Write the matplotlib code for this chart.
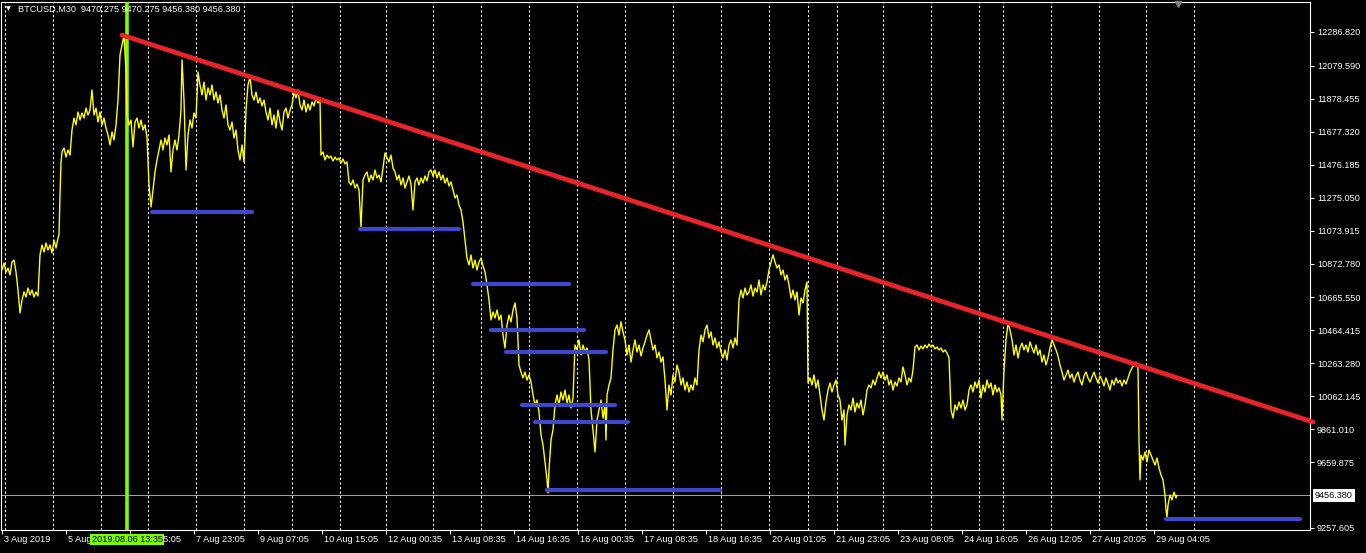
import matplotlib
matplotlib.use('Agg')
import matplotlib.pyplot as plt
import matplotlib.transforms as mtransforms

plt.rcParams['font.family'] = ['Liberation Sans', 'DejaVu Sans']

# --- data (bar index = one M30 candle) ---
bars = [
    0, 2, 4, 6, 8, 10, 12, 14, 16, 18,
    20, 22, 24, 26, 28, 30, 32, 34, 36, 38,
    40, 42, 44, 46, 48, 50, 52, 54, 56, 58,
    59, 60, 61, 62, 64, 66, 68, 70, 72, 74,
    76, 78, 80, 82, 84, 86, 88, 90, 92, 94,
    96, 98, 100, 102, 104, 106, 108, 110, 112, 114,
    116, 118, 120, 122, 124, 126, 127, 129, 131, 133,
    135, 137, 139, 141, 143, 145, 147, 149, 151, 153,
    155, 157, 159, 161, 163, 165, 167, 169, 171, 173,
    175, 177, 179, 181, 182, 184, 186, 188, 190, 192,
    194, 196, 198, 200, 202, 204, 206, 208, 210, 212,
    214, 216, 218, 220, 222, 224, 226, 228, 230, 232,
    234, 236, 238, 240, 242, 244, 246, 248, 250, 252,
    254, 256, 258, 260, 262, 264, 266, 268, 270, 272,
    274, 276, 278, 280, 282, 284, 286, 288, 290, 292,
    294, 296, 298, 300, 302, 304, 306, 308, 310, 312,
    314, 316, 318, 320, 321, 323, 325, 327, 329, 331,
    333, 335, 337, 339, 341, 343, 345, 347, 349, 351,
    353, 355, 357, 359, 361, 363, 365, 367, 369, 371,
    373, 375, 377, 379, 381, 383, 385, 387, 389, 391,
    393, 395, 397, 399, 401, 403, 405, 407, 409, 411,
    413, 415, 417, 419, 421, 423, 425, 427, 429, 431,
    433, 435, 437, 439, 441, 443, 445, 447, 449, 451,
    453, 455, 457, 459, 461, 463, 465, 467, 469, 471,
    473, 475, 477, 479, 481, 483, 485, 487, 489, 491,
    493, 495, 497, 499, 501, 503, 505, 507, 509, 511,
    513, 515, 517, 519, 521, 523, 525, 527, 529, 531,
    533, 535, 537, 539, 541, 543, 545, 547, 548, 549,
    551, 553, 555, 557, 559, 561, 563, 565, 567, 569,
    571, 573, 575, 577, 579, 581, 583, 585, 587, 589,
    591, 593, 595, 597, 599, 601, 603, 605, 606, 607,
    609, 611, 613, 615, 617, 619, 621, 623, 625, 627,
    629, 631, 633, 635, 637, 639, 641, 643, 645, 647,
    649, 651, 653, 655, 657, 659, 661, 663, 665, 667,
    669, 671, 673, 675, 677, 679, 681, 683, 685, 687,
    689, 691, 693, 695, 697, 699, 701, 703, 705, 707,
    709, 711, 713, 715, 717, 719, 721, 723, 725, 727,
    729, 731, 733, 735, 737, 739, 741, 743, 745, 747,
    749, 751, 753, 755, 757, 759, 761, 763, 765, 767,
    769, 771, 773, 775, 777, 779, 781, 783, 785, 787,
    789, 791, 793, 795, 797, 799, 801, 803, 805, 807,
    808, 810, 812, 814, 816, 818, 820, 822, 824, 826,
    828, 830, 832, 834, 836, 838, 840, 842, 844, 845,
    847, 849, 851, 853, 855, 857, 859, 861, 863, 865,
    867, 869, 871, 873, 875, 877, 879, 881, 883, 885,
    887, 889, 891, 893, 895, 897, 899, 901, 903, 905,
    907, 909, 911, 913, 915, 917, 919, 921, 923, 925,
    927, 929, 931, 933, 935, 937, 939, 941, 943, 945,
    947, 949, 951, 953, 955, 957, 959, 961, 963, 965,
    967, 969, 971, 973, 975, 977, 979, 981, 983, 985,
    987, 989, 991, 993, 995, 997, 999, 1001, 1002, 1004,
    1006, 1008, 1010, 1012, 1014, 1016, 1018, 1020, 1022, 1024,
    1026, 1028, 1030, 1032, 1034, 1036, 1038, 1040, 1042, 1044,
    1046, 1048, 1050, 1052, 1054, 1056, 1058, 1060, 1062, 1064,
    1066, 1068, 1070, 1072, 1074, 1076, 1078, 1080, 1082, 1084,
    1086, 1088, 1090, 1092, 1094, 1096, 1098, 1100, 1102, 1104,
    1106, 1108, 1110, 1112, 1114, 1116, 1118, 1120, 1122, 1124,
    1126, 1128, 1130, 1132, 1134, 1136, 1138, 1139, 1140, 1141,
    1143, 1145, 1147, 1149, 1151, 1153, 1155, 1157, 1159, 1161,
    1163, 1165, 1166, 1167, 1168, 1170, 1172, 1174, 1176, 1177,
]
closes = [
    10864, 10833, 10876, 10821, 10845, 10803, 10882, 10894, 10821, 10711,
    10571, 10650, 10699, 10668, 10723, 10681, 10711, 10668, 10699, 10674,
    10925, 10986, 10943, 10998, 10955, 10986, 10937, 11016, 10967, 11029,
    11047, 11291, 11487, 11554, 11578, 11523, 11566, 11535, 11688, 11761,
    11719, 11798, 11749, 11792, 11761, 11822, 11780, 11810, 11932, 11780,
    11822, 11737, 11798, 11719, 11761, 11700, 11658, 11597, 11676, 11627,
    11719, 11871, 12146, 12207, 12268, 12055, 11780, 11719, 11749, 11584,
    11737, 11761, 11700, 11749, 11688, 11719, 11645, 11352, 11218, 11322,
    11432, 11505, 11566, 11627, 11566, 11639, 11597, 11658, 11432, 11566,
    11627, 11566, 11658, 11810, 12116, 11871, 11444, 11658, 11749, 11700,
    11792, 11761, 12042, 11963, 11902, 11981, 11871, 11945, 11902, 11963,
    11871, 11920, 11853, 11902, 11810, 11761, 11841, 11719, 11688, 11737,
    11639, 11688, 11566, 11505, 11597, 11493, 11810, 11963, 12012, 11902,
    11871, 11920, 11853, 11884, 11835, 11871, 11798, 11749, 11822, 11719,
    11780, 11700, 11810, 11737, 11688, 11798, 11822, 11761, 11810, 11841,
    11920, 11884, 11932, 11841, 11810, 11871, 11798, 11847, 11810, 11859,
    11835, 11884, 11853, 11871, 11535, 11554, 11505, 11535, 11517, 11529,
    11499, 11523, 11505, 11517, 11487, 11511, 11481, 11493, 11371, 11352,
    11383, 11334, 11358, 11322, 11096, 11383, 11413, 11432, 11371, 11413,
    11383, 11444, 11395, 11413, 11371, 11456, 11548, 11517, 11493, 11535,
    11456, 11432, 11383, 11413, 11352, 11395, 11334, 11371, 11407, 11358,
    11200, 11371, 11395, 11352, 11395, 11364, 11407, 11377, 11432, 11444,
    11407, 11444, 11395, 11432, 11383, 11413, 11364, 11395, 11346, 11371,
    11322, 11273, 11291, 11230, 11200, 11126, 11016, 10906, 10864, 10925,
    10845, 10894, 10833, 10882, 10906, 10858, 10821, 10742, 10650, 10528,
    10577, 10540, 10589, 10528, 10558, 10436, 10357, 10497, 10558, 10516,
    10589, 10632, 10540, 10253, 10210, 10174, 10210, 10161, 10192, 10149,
    10070, 10009, 10039, 9966, 9825, 9764, 9661, 9551, 9471, 9612,
    9795, 9856, 10009, 10070, 10009, 10088, 10039, 10100, 10021, 10070,
    9990, 10051, 10375, 10345, 10406, 10314, 10375, 10332, 10357, 10284,
    9978, 9856, 9722, 9917, 9978, 10039, 9929, 10009, 9795, 10070,
    10131, 10174, 10345, 10467, 10497, 10436, 10516, 10455, 10406, 10314,
    10375, 10271, 10345, 10406, 10332, 10375, 10308, 10357, 10394, 10436,
    10467, 10406, 10345, 10375, 10296, 10332, 10271, 10302, 10161, 9978,
    10131, 10070, 10192, 10149, 10253, 10210, 10131, 10174, 10100, 10149,
    10088, 10131, 10100, 10174, 10131, 10345, 10436, 10394, 10467, 10497,
    10418, 10455, 10375, 10418, 10357, 10394, 10332, 10296, 10345, 10284,
    10375, 10406, 10357, 10418, 10375, 10650, 10711, 10662, 10723, 10681,
    10699, 10742, 10674, 10723, 10699, 10772, 10681, 10742, 10711, 10760,
    10833, 10882, 10925, 10882, 10845, 10864, 10803, 10833, 10772, 10803,
    10742, 10662, 10711, 10650, 10699, 10558, 10662, 10632, 10711, 10760,
    10143, 10174, 10131, 10192, 10113, 10161, 10070, 9978, 9917, 10027,
    10100, 10143, 10088, 10131, 10161, 10070, 10039, 9917, 9978, 9764,
    9948, 10009, 9978, 10051, 9966, 10021, 9990, 10039, 9948, 10009,
    10100, 10131, 10113, 10161, 10131, 10174, 10210, 10174, 10210, 10161,
    10192, 10131, 10161, 10100, 10149, 10125, 10174, 10149, 10241, 10192,
    10131, 10174, 10149, 10222, 10363, 10375, 10345, 10369, 10351, 10375,
    10357, 10381, 10363, 10375, 10351, 10363, 10345, 10357, 10332, 10345,
    10326, 10296, 9978, 9929, 10009, 9978, 10027, 9990, 10039, 9978,
    10009, 10100, 10131, 10088, 10149, 10113, 10161, 10051, 10131, 10088,
    10161, 10113, 10143, 10070, 10131, 10088, 10113, 10070, 9917, 10222,
    10406, 10509, 10467, 10406, 10314, 10375, 10296, 10357, 10387, 10345,
    10375, 10332, 10394, 10357, 10326, 10375, 10314, 10345, 10271, 10314,
    10253, 10296, 10357, 10406, 10375, 10345, 10308, 10253, 10210, 10161,
    10192, 10222, 10174, 10198, 10149, 10186, 10210, 10161, 10131, 10186,
    10210, 10174, 10149, 10180, 10210, 10174, 10143, 10186, 10161, 10125,
    10174, 10137, 10100, 10161, 10131, 10174, 10143, 10161, 10125, 10161,
    10137, 10174, 10210, 10235, 10253, 10271, 10235, 9795, 9551, 9703,
    9673, 9722, 9661, 9734, 9703, 9673, 9642, 9685, 9624, 9581,
    9551, 9459, 9368, 9325, 9398, 9459, 9429, 9477, 9441, 9456.38,
]

# trend line (red) and support levels (blue)
trend_bars = [122, 1313]
trend_prices = [12268, 9905]
level_start = [152, 360, 473, 491, 506, 522, 535, 547, 1166]
level_end = [252, 459, 569, 584, 606, 615, 628, 720, 1300]
level_price = [11189, 11082, 10746, 10465, 10334, 10007, 9907, 9488, 9313]

marker_bar = 127
marker_label = '2019.08.06 13:35'
last_price = 9456.38
title = 'BTCUSD,M30  9470.275 9470.275 9456.380 9456.380'

grid_bars = [5, 53, 101, 148, 196, 244, 292, 340, 386, 433, 481, 529, 577, 625,
             673, 721, 769, 808, 837, 883, 931, 979, 1003, 1051, 1099, 1146, 1194]
xlabel_bars = [2, 66, 130, 194, 258, 322, 386, 450, 514, 578, 642, 706, 770,
               834, 898, 962, 1026, 1090, 1154]
xlabels = ['3 Aug 2019', '5 Aug 07:05', '6 Aug 15:05', '7 Aug 23:05', '9 Aug 07:05',
           '10 Aug 15:05', '12 Aug 00:35', '13 Aug 08:35', '14 Aug 16:35',
           '16 Aug 00:35', '17 Aug 08:35', '18 Aug 16:35', '20 Aug 01:05',
           '21 Aug 23:05', '23 Aug 08:05', '24 Aug 16:05', '26 Aug 12:05',
           '27 Aug 20:05', '29 Aug 04:05']
price_ticks = [12286.820, 12079.590, 11878.455, 11677.320, 11476.185, 11275.050,
               11073.915, 10872.780, 10665.550, 10464.415, 10263.280, 10062.145,
               9861.010, 9659.875, 9257.605]

# --- figure ---
W, H = 1366, 553
fig = plt.figure(figsize=(W / 100, H / 100), dpi=100, facecolor='black')
ax = fig.add_axes([1 / W, 23 / H, 1309 / W, 528 / H], facecolor='black')
ax.set_xlim(1, 1310)
ax.set_ylim(9245.3, 12469.8)

for g in grid_bars:
    ax.axvline(g, color='white', lw=0.75, ls=(0, (2.2, 2.2)), zorder=1)

ax.axhline(last_price, color='#a0a0a0', lw=0.75, zorder=2)
ax.axvline(marker_bar, color='#7cfc00', lw=2.6, zorder=3)

ax.plot(bars, closes, color='#ffff00', lw=1.0, zorder=4)

for s, e, p in zip(level_start, level_end, level_price):
    ax.plot([s, e], [p, p], color='#3f48cc', lw=3.0, solid_capstyle='round', zorder=5)
ax.plot(trend_bars, trend_prices, color='#e8242a', lw=3.4, solid_capstyle='round',
        zorder=6, clip_on=False)

# axes styling
for side in ['top', 'bottom', 'left', 'right']:
    ax.spines[side].set_color('white')
    ax.spines[side].set_linewidth(0.8)

ax.yaxis.tick_right()
ax.set_yticks(price_ticks)
ax.set_yticklabels([f'{v:.3f}' for v in price_ticks])
ax.tick_params(axis='y', colors='white', labelsize=6.6, length=3, width=0.8, pad=2)

ax.set_xticks(xlabel_bars)
ax.set_xticklabels(xlabels)
ax.tick_params(axis='x', colors='white', labelsize=6.6, length=3, width=0.8, pad=0.5)
shift = mtransforms.ScaledTranslation(2 / 100, 0, fig.dpi_scale_trans)
for lab in ax.get_xticklabels():
    lab.set_horizontalalignment('left')
    lab.set_transform(lab.get_transform() + shift)

# time label of the green line (drawn over the axis labels, as in the terminal)
ax.annotate(marker_label, xy=(marker_bar, 0), xycoords=('data', 'axes fraction'),
            xytext=(0, -9.5), textcoords='offset pixels', ha='center', va='center',
            fontsize=6.6, color='black', zorder=10, annotation_clip=False,
            bbox=dict(boxstyle='square,pad=0.15', fc='#7cfc00', ec='none'))

# current price box
ax.annotate(f'{last_price:.3f}', xy=(1, last_price), xycoords=('axes fraction', 'data'),
            xytext=(5, 0), textcoords='offset pixels', ha='left', va='center',
            fontsize=6.6, color='black', annotation_clip=False,
            bbox=dict(boxstyle='square,pad=0.2', fc='white', ec='none'))

# header text
ax.text(5 / 1309, 1 - 7 / 528, '\u25bc', transform=ax.transAxes, color='white',
        fontsize=4.5, ha='left', va='center', family='DejaVu Sans')
ax.text(17 / 1309, 1 - 7 / 528, title, transform=ax.transAxes, color='white',
        fontsize=6.6, ha='left', va='center')

# shift marker at the top
ax.plot([1178], [12460], marker='v', color='#808080', markersize=5, clip_on=False,
        zorder=7)

fig.savefig('out.png', dpi=100, facecolor='black')
